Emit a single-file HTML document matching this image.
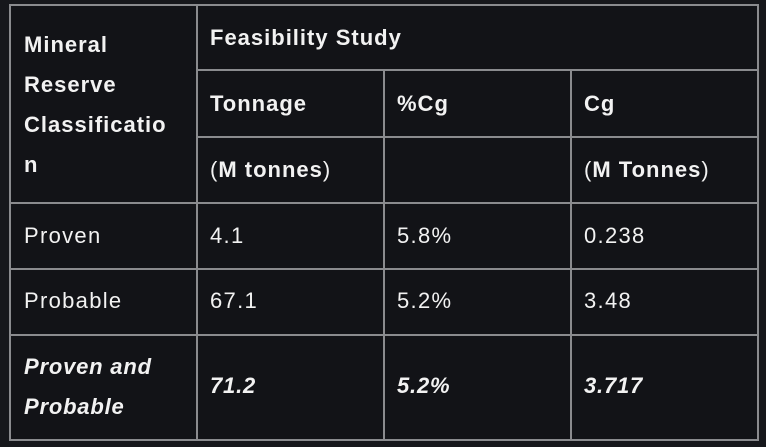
<!DOCTYPE html>
<html><head><style>
body{margin:0;width:766px;height:447px;background:#16171b;overflow:hidden;position:relative;font-family:"Liberation Sans",sans-serif;color:#f2f2f2}
.h{position:absolute;height:2px;background:#8a8b8e}
.v{position:absolute;width:2px;background:#8a8b8e}
.t{position:absolute;font-size:22px;line-height:24px;white-space:nowrap;transform:translateY(-50%);letter-spacing:1.3px}
.b{font-weight:bold;letter-spacing:1px}
.i{font-weight:bold;font-style:italic;letter-spacing:0.8px}
#tb{position:absolute;left:10px;top:5px;width:747px;height:435px;background:#121317}
</style></head><body>
<div id="tb"></div>
<div class="h" style="left:10px;top:4px;width:749px"></div>
<div class="h" style="left:197px;top:69px;width:562px"></div>
<div class="h" style="left:197px;top:136px;width:562px"></div>
<div class="h" style="left:10px;top:202px;width:749px"></div>
<div class="h" style="left:10px;top:268px;width:749px"></div>
<div class="h" style="left:10px;top:334px;width:749px"></div>
<div class="h" style="left:10px;top:439px;width:749px"></div>
<div class="v" style="left:9px;top:4px;height:437px"></div>
<div class="v" style="left:196px;top:4px;height:437px"></div>
<div class="v" style="left:383px;top:69px;height:372px"></div>
<div class="v" style="left:570px;top:69px;height:372px"></div>
<div class="v" style="left:757px;top:4px;height:437px"></div>

<div class="t b" style="left:24px;top:45px">Mineral</div>
<div class="t b" style="left:24px;top:85px">Reserve</div>
<div class="t b" style="left:24px;top:125px">Classificatio</div>
<div class="t b" style="left:24px;top:165px">n</div>
<div class="t b" style="left:210px;top:38px">Feasibility Study</div>
<div class="t b" style="left:210px;top:104px">Tonnage</div>
<div class="t b" style="left:397px;top:104px">%Cg</div>
<div class="t b" style="left:584px;top:104px">Cg</div>
<div class="t b" style="left:210px;top:170px"><span style="font-weight:normal">(</span>M tonnes<span style="font-weight:normal">)</span></div>
<div class="t b" style="left:584px;top:170px"><span style="font-weight:normal">(</span>M Tonnes<span style="font-weight:normal">)</span></div>
<div class="t" style="left:24px;top:236px">Proven</div>
<div class="t" style="left:210px;top:236px">4.1</div>
<div class="t" style="left:397px;top:236px">5.8%</div>
<div class="t" style="left:584px;top:236px">0.238</div>
<div class="t" style="left:24px;top:301px">Probable</div>
<div class="t" style="left:210px;top:301px">67.1</div>
<div class="t" style="left:397px;top:301px">5.2%</div>
<div class="t" style="left:584px;top:301px">3.48</div>
<div class="t i" style="left:24px;top:367px">Proven and</div>
<div class="t i" style="left:24px;top:407px">Probable</div>
<div class="t i" style="left:210px;top:386px">71.2</div>
<div class="t i" style="left:397px;top:386px">5.2%</div>
<div class="t i" style="left:584px;top:386px">3.717</div>
</body></html>
